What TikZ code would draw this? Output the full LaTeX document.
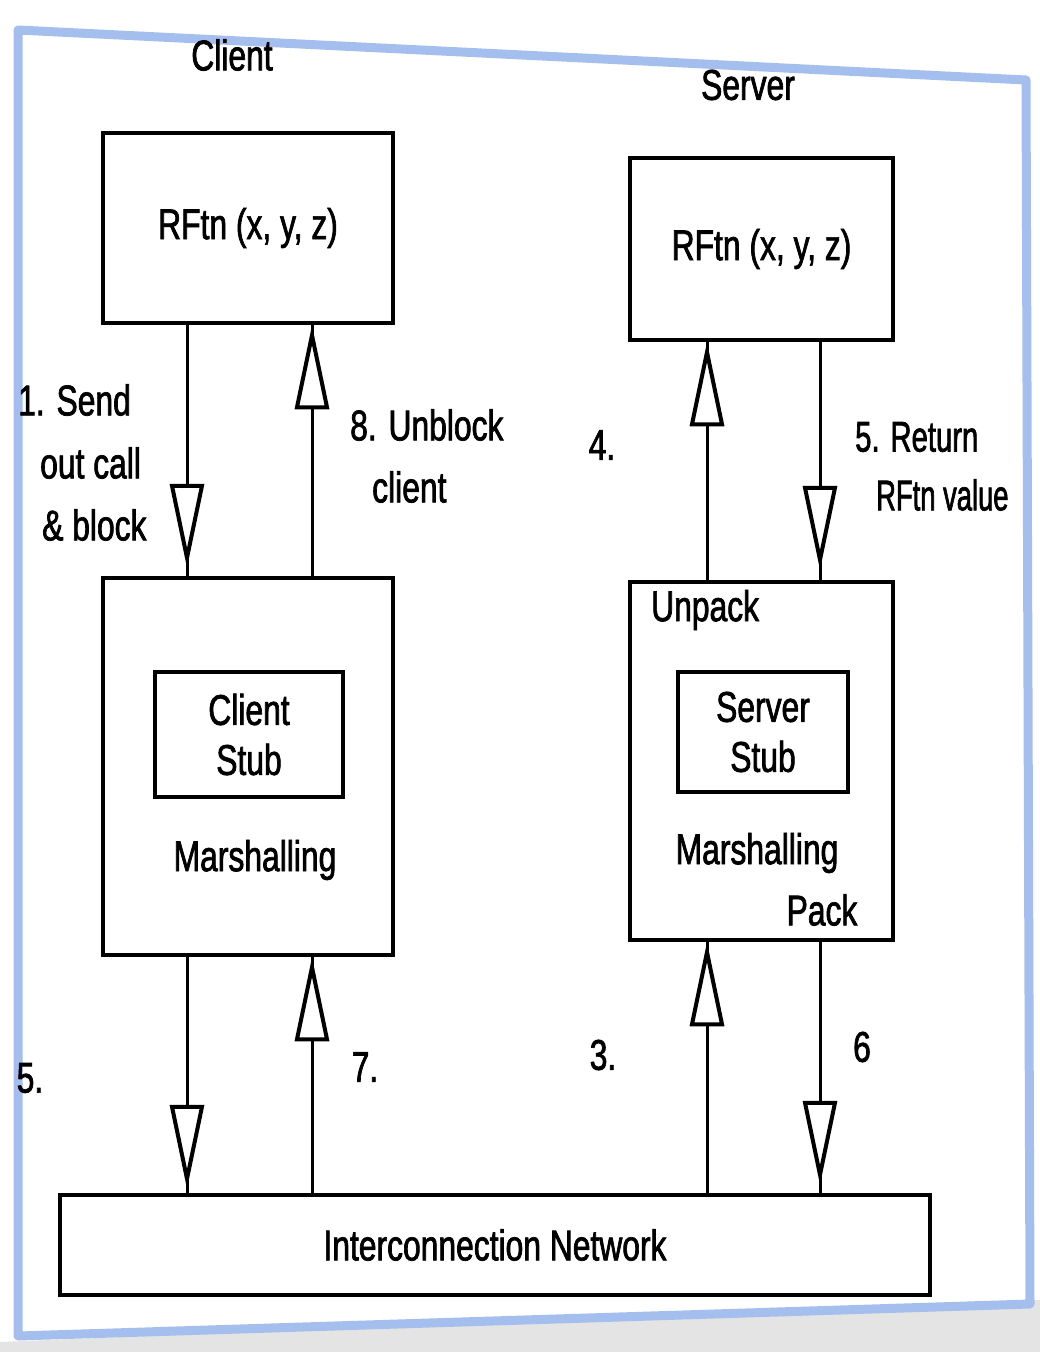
\documentclass[tikz,border=0pt]{standalone}
\usepackage{fontspec}
\setmainfont{Liberation Sans}[FakeStretch=0.74, FakeBold=1.6]
\usetikzlibrary{decorations.markings}
\definecolor{pageblue}{HTML}{A4BFEE}
\definecolor{bggray}{HTML}{E4E4E4}
\begin{document}
\begin{tikzpicture}[x=1pt,y=-1pt,
  box/.style={draw, line width=4.5pt, inner sep=0pt},
  txt/.style={font=\fontsize{43}{50}\selectfont, inner sep=0pt},
  conn/.style={line width=3pt},
  headat/.style={postaction=decorate, decoration={markings,
     mark=at position #1 with {\draw[line width=4pt, fill=white, line join=miter]
       (0,0) -- (-72,-15) -- (-72,15) -- cycle;}}}
]
\useasboundingbox (0,0) rectangle (1040,1352);
% background and page
\fill[white] (0,0) rectangle (1040,1352);
\fill[bggray] (0,1342) -- (1040,1300) -- (1040,1352) -- (0,1352) -- cycle;
\draw[pageblue, line width=9pt, fill=white, line join=round]
  (18,30) -- (1026,80) -- (1030,1304) -- (18,1336) -- cycle;

% titles
\node[txt] (tclient) at (232,55) {Client};
\node[txt] (tserver) at (748,85) {Server};

% boxes
\node[box, txt, minimum width=290pt, minimum height=190pt] (crf) at (248,228) {RFtn (x, y, z)};
\node[box, txt, minimum width=263pt, minimum height=182pt] (srf) at (761.5,249) {RFtn (x, y, z)};
\node[box, minimum width=290pt, minimum height=377pt] (cst) at (248,766.5) {};
\node[box, txt, align=center, minimum width=188pt, minimum height=125pt] (cin) at (249,734.5) {Client\\Stub};
\node[txt] (cmar) at (255,860) {Marshalling};
\node[box, minimum width=263pt, minimum height=358pt] (sst) at (761.5,761) {};
\node[box, txt, align=center, minimum width=170pt, minimum height=120pt] (sin) at (763,732) {Server\\Stub};
\node[txt] (smar) at (757,853) {Marshalling};
\node[txt, anchor=west] (unpack) at (651,610) {Unpack};
\node[txt] (pack) at (822,910) {Pack};
\node[box, txt, minimum width=870pt, minimum height=100pt] (net) at (495,1245) {Interconnection Network};

% columns
\coordinate (c1) at (187,0);
\coordinate (c2) at (312,0);
\coordinate (s1) at (707,0);
\coordinate (s2) at (820,0);

% connectors
\draw[conn, headat=-18pt] (crf.south -| c1) -- (cst.north -| c1);
\draw[conn, headat=-10pt] (cst.north -| c2) -- (crf.south -| c2);
\draw[conn, headat=-10pt] (sst.north -| s1) -- (srf.south -| s1);
\draw[conn, headat=-20pt] (srf.south -| s2) -- (sst.north -| s2);
\draw[conn, headat=-14pt] (cst.south -| c1) -- (net.north -| c1);
\draw[conn, headat=-10pt] (net.north -| c2) -- (cst.south -| c2);
\draw[conn, headat=-10pt] (net.north -| s1) -- (sst.south -| s1);
\draw[conn, headat=-18pt] (sst.south -| s2) -- (net.north -| s2);

% labels
\node[txt, anchor=west] (l1a) at (18,400) {1. Send};
\node[txt, anchor=west] (l1b) at (40,463) {out call};
\node[txt, anchor=west] (l1c) at (42,525) {\& block};
\node[txt, anchor=west] (l8a) at (350,425) {8. Unblock};
\node[txt, anchor=west] (l8b) at (372,487) {client};
\node[txt] (l4) at (602,445) {4.};
\node[txt, anchor=west] (l5a) at (855,437) {\scalebox{0.92}[1]{5. Return}};
\node[txt, anchor=west] (l5b) at (876,495) {\scalebox{0.86}[1]{RFtn value}};
\node[txt] (l5) at (30,1078) {5.};
\node[txt] (l7) at (365,1067) {7.};
\node[txt] (l3) at (603,1055) {3.};
\node[txt] (l6) at (862,1047) {6};
\end{tikzpicture}
\end{document}
